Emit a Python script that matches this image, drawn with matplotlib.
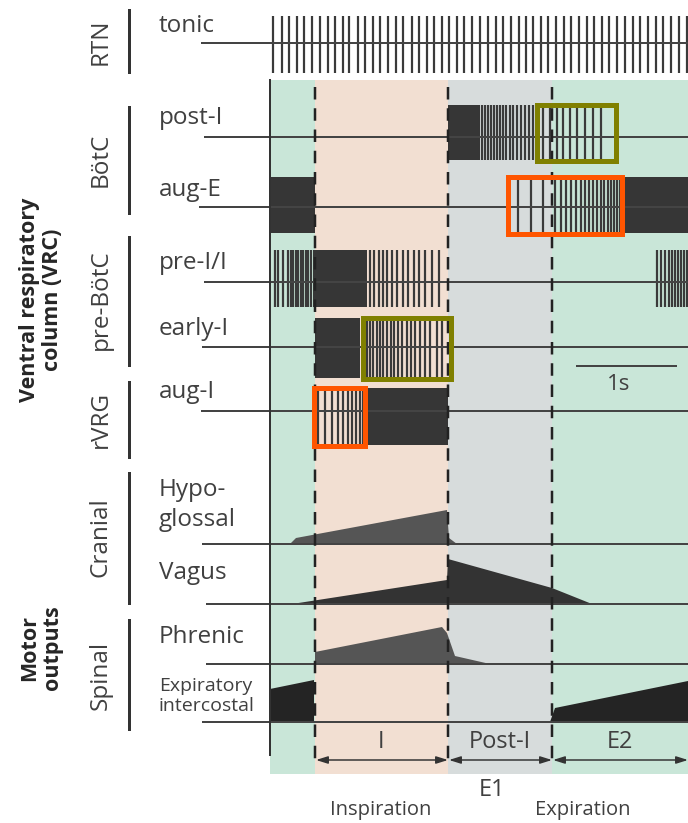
import matplotlib.pyplot as plt
from matplotlib.patches import Rectangle, Polygon

plt.rcParams['font.family'] = ['Open Sans', 'DejaVu Sans']

# phases (x in px along the time axis)
phase_edges = [270, 315, 448, 552, 688]
phase_colors = ['#c9e6d8', '#f2dfd2', '#d7dcdc', '#c9e6d8']
phase_names = ['I', 'Post-I', 'E2']

# spike trains: single spikes and dense bursts (start, end)
tonic_spikes = [273, 282, 289, 297, 304, 312, 320, 328, 335, 343, 349, 358, 365,
                373, 380, 388, 396, 403, 412, 419, 427, 434, 442, 449, 457, 464,
                472, 480, 488, 496, 503, 511, 519, 526, 533, 541, 548, 556, 564,
                571, 579, 587, 594, 602, 609, 617, 625, 633, 640, 648, 656, 663,
                671, 679, 687]
tonic_bursts = []

post_i_spikes = [482, 485, 488, 491, 494, 497, 500, 503, 506, 510, 513, 517, 521,
                 525, 529, 533, 538, 543, 550, 557, 563, 570, 577, 585, 593, 601]
post_i_bursts = [(448, 480)]

aug_e_spikes = [518, 531, 543, 555, 561, 566, 571, 576, 581, 585, 589, 593, 597,
                601, 604, 608, 611, 614, 617, 620]
aug_e_bursts = [(270, 315), (622, 688)]

pre_i_spikes = [275, 278, 283, 288, 291, 293, 296, 298, 301, 303, 306, 308, 311,
                370, 374, 379, 383, 387, 392, 397, 403, 408, 414, 419, 425, 432, 439,
                657, 661, 665, 669, 672, 675, 678, 681, 684, 687]
pre_i_bursts = [(313, 367)]

early_i_spikes = [367, 370, 373, 377, 380, 383, 387, 391, 394, 398, 402, 407, 411,
                  415, 420, 425, 430, 437, 442]
early_i_bursts = [(315, 360)]

aug_i_spikes = [318, 325, 332, 338, 343, 348, 352, 356, 360, 363]
aug_i_bursts = [(367, 448)]

# highlighted windows (row, x0, x1, colour)
boxes = [('post-I', 534, 618, '#808000'),
         ('aug-E', 505, 624, '#ff5500'),
         ('early-I', 360, 453, '#808000'),
         ('aug-I', 311, 367, '#ff5500')]

# motor outputs: x and amplitude above baseline
hypo_x = [290, 296, 447, 449, 457]
hypo_amp = [0, 6, 34, 6, 0]
vagus_x = [292, 447, 448, 552, 592]
vagus_amp = [0, 24, 45, 16, 0]
phrenic_x = [315, 315, 442, 447, 455, 490]
phrenic_amp = [0, 12, 37, 31, 8, 0]
expint1_x = [270, 270, 314, 314]
expint1_amp = [0, 33, 42, 0]
expint2_x = [550, 555, 688, 688]
expint2_amp = [0, 14, 41, 0]

# layout: row name -> (baseline y, spike top, spike bottom, label y, line start)
rows = {
    'tonic':   (43, 16, 73, 26, 202),
    'post-I':  (137, 105, 160, 118, 205),
    'aug-E':   (207, 177, 233, 190, 200),
    'pre-I/I': (282, 250, 307, 263, 205),
    'early-I': (347, 318, 378, 329, 203),
    'aug-I':   (411, 388, 445, 392, 202),
}
trains = {
    'tonic': (tonic_spikes, tonic_bursts),
    'post-I': (post_i_spikes, post_i_bursts),
    'aug-E': (aug_e_spikes, aug_e_bursts),
    'pre-I/I': (pre_i_spikes, pre_i_bursts),
    'early-I': (early_i_spikes, early_i_bursts),
    'aug-I': (aug_i_spikes, aug_i_bursts),
}
motor = [('Hypo-\nglossal', 544, 505, 203, [(hypo_x, hypo_amp, '#555555')]),
         ('Vagus', 604, 573, 207, [(vagus_x, vagus_amp, '#333333')]),
         ('Phrenic', 664, 637, 207, [(phrenic_x, phrenic_amp, '#555555')]),
         ('Expiratory\nintercostal', 722, 696, 203,
          [(expint1_x, expint1_amp, '#242424'), (expint2_x, expint2_amp, '#242424')])]

groups = [('RTN', 42, 10, 72), ('BötC', 160, 107, 213), ('pre-BötC', 300, 237, 365),
          ('rVRG', 419, 382, 457), ('Cranial', 537, 473, 603), ('Spinal', 675, 620, 729)]

px = 0.72  # px -> pt at 100 dpi
txt = '#404040'
dark = '#3a3a3a'

fig = plt.figure(figsize=(6.88, 8.23), dpi=100)
ax = fig.add_axes([0, 0, 1, 1])
ax.set_xlim(0, 688)
ax.set_ylim(823, 0)
ax.axis('off')

# background phases
for i in range(len(phase_colors)):
    ax.add_patch(Rectangle((phase_edges[i], 80), phase_edges[i + 1] - phase_edges[i], 694,
                           color=phase_colors[i], lw=0, zorder=0))

# motor output envelopes
for name, base, ly, x0, shapes in motor:
    for xs, amps, col in shapes:
        pts = [(x, base - a) for x, a in zip(xs, amps)]
        ax.add_patch(Polygon(pts, closed=True, color=col, lw=0, zorder=2))
    ax.plot([x0, 688], [base, base], color='#444444', lw=2 * px, zorder=3)
    small = 'Expiratory' in name
    ax.text(159, ly, name, fontsize=14 if small else 17.5, color=txt, va='center',
            ha='left', linespacing=1.1 if small else 1.35)

# spike trains
for name, (base, top, bot, ly, x0) in rows.items():
    spikes, bursts = trains[name]
    for b0, b1 in bursts:
        ax.add_patch(Rectangle((b0, top), b1 - b0, bot - top, color='#363636', lw=0, zorder=2))
    ax.vlines(spikes, top, bot, color=dark, lw=2.2 * px, zorder=2)
    ax.plot([x0, 688], [base, base], color='#444444', lw=2 * px, zorder=3)
    ax.text(159, ly, name, fontsize=17.5, color=txt, va='center', ha='left')

# phase boundaries
ax.plot([270, 270], [80, 755], color='#333333', lw=2 * px, zorder=4)
for x in phase_edges[1:4]:
    ax.plot([x, x], [87, 765], color='#222222', lw=2.5 * px, zorder=4,
            linestyle=(0, (5, 3.5)))

# highlight boxes
for name, b0, b1, col in boxes:
    base, top, bot, ly, x0 = rows[name]
    w = 5
    ax.add_patch(Rectangle((b0 + w / 2, top - 3 + w / 2), b1 - b0 - w, bot - top + 6 - w,
                           fill=False, edgecolor=col, lw=w * px, zorder=5))

# phase arrows and labels
for i, name in enumerate(phase_names):
    a0, a1 = phase_edges[i + 1], phase_edges[i + 2]
    ax.annotate('', xy=(a1, 760), xytext=(a0 + 1, 760),
                arrowprops=dict(arrowstyle='<|-|>,head_length=0.7,head_width=0.22',
                                color='#333333', lw=1.5 * px, shrinkA=0, shrinkB=0),
                zorder=5)
    ax.text((a0 + a1) / 2, 742, name, fontsize=17, color=txt, ha='center', va='center')
ax.text(492, 790, 'E1', fontsize=17, color=txt, ha='center', va='center')
ax.text(381, 810, 'Inspiration', fontsize=14.5, color=txt, ha='center', va='center')
ax.text(583, 810, 'Expiration', fontsize=14.5, color=txt, ha='center', va='center')

# scale bar
ax.plot([577, 676], [366, 366], color='#444444', lw=2 * px, zorder=4)
ax.text(619, 384, '1s', fontsize=16, color=txt, ha='center', va='center')

# group brackets
for name, cy, y0, y1 in groups:
    ax.plot([129, 129], [y0, y1], color='#333333', lw=3 * px)
    ax.text(101, cy, name, fontsize=17.5, color=txt, rotation=90, ha='center', va='center')

ax.text(41, 300, 'Ventral respiratory\ncolumn (VRC)', fontsize=15.5, fontweight='bold',
        color='#262626', rotation=90, ha='center', va='center', linespacing=1.15)
ax.text(41, 648, 'Motor\noutputs', fontsize=15.5, fontweight='bold',
        color='#262626', rotation=90, ha='center', va='center', linespacing=1.15)

fig.savefig('out.png', dpi=100)
